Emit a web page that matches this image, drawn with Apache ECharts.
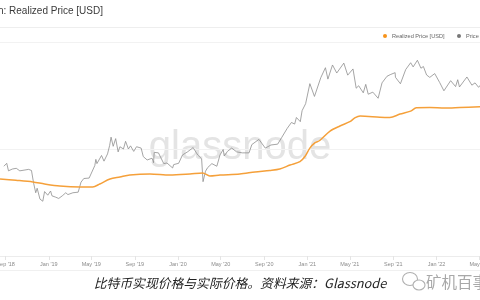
<!DOCTYPE html>
<html><head><meta charset="utf-8">
<script src="https://cdn.jsdelivr.net/npm/echarts@6/dist/echarts.min.js"></script>
<style>html,body{margin:0;padding:0;background:#fff}#c{width:480px;height:300px}</style>
</head><body><div id="c"></div>
<script>
const priceDates = ["2018-08-27","2018-09-04","2018-09-09","2018-09-20","2018-10-01","2018-10-11","2018-10-16","2018-11-05","2018-11-13","2018-11-19","2018-11-25","2018-11-29","2018-12-07","2018-12-15","2018-12-20","2018-12-24","2018-12-29","2019-01-06","2019-01-10","2019-01-20","2019-01-29","2019-02-08","2019-02-18","2019-02-24","2019-03-10","2019-03-25","2019-04-02","2019-04-10","2019-04-25","2019-05-11","2019-05-14","2019-05-17","2019-05-30","2019-06-06","2019-06-16","2019-06-22","2019-06-26","2019-07-02","2019-07-09","2019-07-16","2019-07-21","2019-07-31","2019-08-06","2019-08-14","2019-08-20","2019-08-29","2019-09-06","2019-09-19","2019-09-25","2019-10-06","2019-10-20","2019-10-24","2019-10-26","2019-11-07","2019-11-22","2019-12-01","2019-12-17","2019-12-20","2020-01-03","2020-01-14","2020-01-28","2020-02-13","2020-02-26","2020-03-08","2020-03-12","2020-03-19","2020-03-25","2020-04-06","2020-04-20","2020-04-29","2020-05-08","2020-05-11","2020-05-20","2020-06-01","2020-06-15","2020-07-01","2020-07-20","2020-07-28","2020-08-17","2020-09-04","2020-09-20","2020-10-09","2020-10-21","2020-11-05","2020-11-17","2020-11-26","2020-12-01","2020-12-12","2020-12-17","2020-12-27","2021-01-08","2021-01-21","2021-02-08","2021-02-21","2021-02-28","2021-03-13","2021-03-25","2021-04-14","2021-04-25","2021-05-10","2021-05-19","2021-05-26","2021-06-08","2021-06-15","2021-06-22","2021-07-05","2021-07-20","2021-07-31","2021-08-14","2021-08-23","2021-09-06","2021-09-07","2021-09-21","2021-10-06","2021-10-20","2021-10-27","2021-11-08","2021-11-18","2021-11-25","2021-12-04","2021-12-13","2021-12-27","2022-01-10","2022-01-22","2022-02-10","2022-02-24","2022-03-02","2022-03-07","2022-03-28","2022-04-11","2022-04-20","2022-04-30","2022-05-05"];
const priceValues = [6900,7350,6250,6500,6600,6250,6500,6450,6300,4800,3900,4300,3400,3250,4000,4050,3700,4050,3650,3550,3450,3650,3900,3750,3900,3950,4900,5300,5350,7000,8000,7300,8700,7700,9000,10800,12900,10600,12500,9400,10500,10000,11800,10000,10700,9500,10500,10200,8500,7900,8200,7450,9300,9200,7300,7400,6650,7150,7350,8800,9400,10300,8800,8100,4950,6200,6700,7300,6900,8800,9900,8600,9500,10200,9400,9200,9200,11000,12300,10200,10900,11100,12900,15600,17700,17100,19700,18000,22800,26500,40800,31000,46500,57500,45000,61000,51300,63500,49000,56000,37000,39000,33500,40200,32500,34000,29800,41500,47800,49500,51700,46800,40700,55300,64000,58500,67500,56900,59000,49200,46700,50700,41800,35000,43500,38300,44400,38000,47100,39500,41500,37700,39500];
const realizedDates = ["2018-08-16","2018-09-30","2018-11-17","2018-12-20","2019-02-01","2019-03-30","2019-05-05","2019-05-25","2019-06-23","2019-07-21","2019-08-18","2019-10-14","2019-12-09","2020-02-04","2020-03-11","2020-03-31","2020-04-29","2020-06-24","2020-08-06","2020-09-17","2020-10-15","2020-11-13","2020-12-11","2020-12-25","2021-01-08","2021-01-22","2021-02-05","2021-03-06","2021-04-03","2021-05-01","2021-05-15","2021-05-30","2021-07-25","2021-08-22","2021-09-20","2021-10-20","2021-11-05","2021-12-13","2022-01-25","2022-03-08","2022-05-04"];
const realizedValues = [5250,5100,4920,4710,4510,4420,4420,4710,5240,5470,5710,5840,5710,5840,5970,5600,5710,5840,6100,6300,6500,7080,7610,8500,10200,11400,12000,14700,16400,18000,19500,20300,19800,19700,21200,22600,24300,24400,24100,24400,24800];
const tickDates = ["2018-09-01","2019-01-01","2019-05-01","2019-09-01","2020-01-01","2020-05-01","2020-09-01","2021-01-01","2021-05-01","2021-09-01","2022-01-01","2022-05-01"];
const tickLabels = ["Sep '18","Jan '19","May '19","Sep '19","Jan '20","May '20","Sep '20","Jan '21","May '21","Sep '21","Jan '22","May '22"];
const xRange = ["2018-08-16","2022-05-04"];
const yRange = [1000, 100000];

const ms = d => Date.parse(d);
const tickMs = tickDates.map(ms);
const priceData = priceDates.map((d, i) => [ms(d), priceValues[i]]);
const realizedData = realizedDates.map((d, i) => [ms(d), realizedValues[i]]);
const FONT = "'Liberation Sans', 'DejaVu Sans', sans-serif";
const legendBase = {
  icon: 'circle', itemWidth: 4, itemHeight: 4, top: 33, padding: 0, orient: 'horizontal',
  textStyle: {fontSize: 5.6, color: '#666', fontFamily: FONT}
};

const chart = echarts.init(document.getElementById('c'), null, {renderer: 'canvas'});
chart.setOption({
  animation: false,
  backgroundColor: '#ffffff',
  grid: {left: 0, right: 0, top: 42, bottom: 44, containLabel: false, outerBoundsMode: 'none'},
  legend: [
    Object.assign({}, legendBase, {data: ['Realized Price [USD]'], left: 383}),
    Object.assign({}, legendBase, {data: ['Price [USD]'], left: 457})
  ],
  xAxis: {
    type: 'value', min: ms(xRange[0]), max: ms(xRange[1]),
    axisLine: {show: true, lineStyle: {color: '#ececec', width: 1}},
    axisTick: {show: true, customValues: tickMs, length: 4, lineStyle: {color: '#e4e4e4'}},
    axisLabel: {show: true, customValues: tickMs, fontSize: 5.5, color: '#8a8a8a', margin: 5, fontFamily: FONT,
      formatter: v => { const i = tickMs.indexOf(v); return i >= 0 ? tickLabels[i] : ''; }},
    splitLine: {show: false}
  },
  yAxis: {
    type: 'log', logBase: 10, min: yRange[0], max: yRange[1],
    axisLine: {show: false}, axisTick: {show: false}, axisLabel: {show: false},
    splitLine: {show: true, lineStyle: {color: '#f2f2f2', width: 1}}
  },
  graphic: [
    {type: 'line', z: 0, silent: true, shape: {x1: 0, y1: 27.5, x2: 480, y2: 27.5}, style: {stroke: '#eeeeee', lineWidth: 1}},
    {type: 'line', z: 0, silent: true, shape: {x1: 0, y1: 270.5, x2: 480, y2: 270.5}, style: {stroke: '#f0f0f0', lineWidth: 1}},
    {type: 'text', z: 0, silent: true, x: 103, y: 11, style: {text: 'Bitcoin: Realized Price [USD]', align: 'right', verticalAlign: 'middle', fontSize: 10, fill: '#3a3a3a', fontFamily: FONT}},
    {type: 'text', z: 0, silent: true, x: 240, y: 148, style: {text: 'glassnode', align: 'center', verticalAlign: 'middle', fontSize: 40, fill: '#e4e4e4', fontFamily: FONT}},
    {type: 'text', z: 0, silent: true, x: 240, y: 283, style: {text: '比特币实现价格与实际价格。资料来源：Glassnode', align: 'center', verticalAlign: 'middle', fontSize: 12.8, fontStyle: 'italic', fill: '#222', fontFamily: "'Noto Sans CJK SC', sans-serif"}},
    {type: 'ellipse', z: 0, silent: true, shape: {cx: 410, cy: 279, rx: 7.5, ry: 6.5}, style: {fill: '#fff', stroke: '#b0b0b0', lineWidth: 1.1}},
    {type: 'ellipse', z: 1, silent: true, shape: {cx: 419, cy: 285, rx: 6, ry: 5}, style: {fill: '#fff', stroke: '#b0b0b0', lineWidth: 1.1}},
    {type: 'text', z: 0, silent: true, x: 426, y: 282, style: {text: '矿机百事通', align: 'left', verticalAlign: 'middle', fontSize: 15.5, fill: '#a8a8a8', fontFamily: "'Noto Sans CJK SC', sans-serif"}}
  ],
  series: [
    {name: 'Realized Price [USD]', type: 'line', data: realizedData, showSymbol: false, smooth: 0.3, z: 4,
      lineStyle: {color: '#f5a03a', width: 1.5}, itemStyle: {color: '#f7931a'}},
    {name: 'Price [USD]', type: 'line', data: priceData, showSymbol: false, z: 3,
      lineStyle: {color: '#8e8e8e', width: 0.8}, itemStyle: {color: '#777'}}
  ]
});
</script>
</body></html>
